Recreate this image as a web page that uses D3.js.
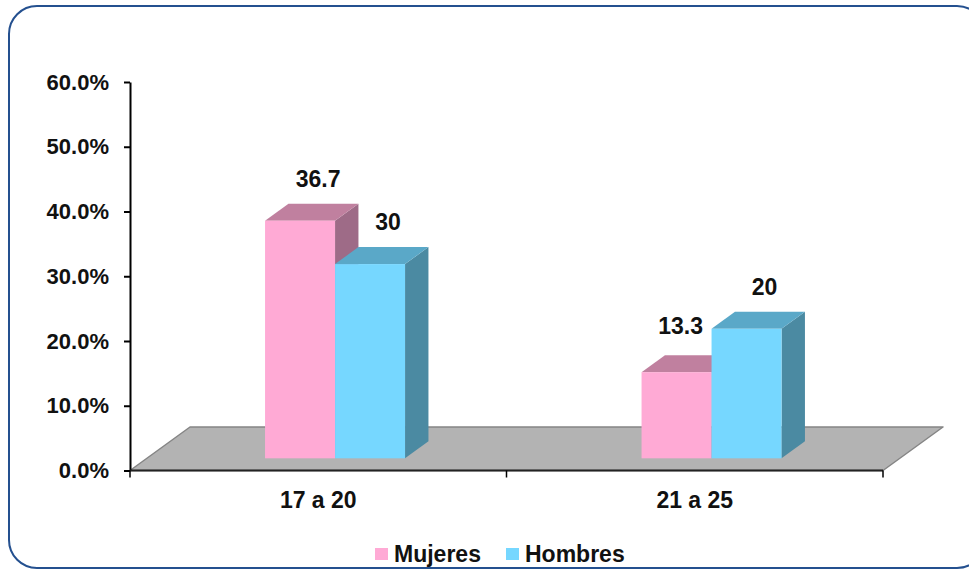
<!DOCTYPE html>
<html>
<head>
<meta charset="utf-8">
<script src="https://cdn.jsdelivr.net/npm/d3@7"></script>
<style>
  body { margin: 0; background: #fff; }
  text { font-family: "Liberation Sans", Arial, sans-serif; font-weight: bold; fill: #111; }
</style>
</head>
<body>
<div id="chart"></div>
<script>
// data
var categories = ["17 a 20", "21 a 25"];
var seriesNames = ["Mujeres", "Hombres"];
var mujeres = [36.7, 13.3];
var hombres = [30, 20];
var yTicks = [0, 0.1, 0.2, 0.3, 0.4, 0.5, 0.6];

var W = 969, H = 569;
var plotLeft = 130, plotRight = 883, plotTop = 82, plotBottom = 470.5;
var depthX = 60, depthY = -43.5;      // floor depth
var barFront = 0.28, barDepth = 0.39; // bar position in depth (fraction)

var faces = [
  {front: "#ffaad5", top: "#c0809f", side: "#9e6b87"},
  {front: "#76d7ff", top: "#5aa8c8", side: "#4b8aa2"}
];

var svg = d3.select("#chart").append("svg")
  .attr("width", W).attr("height", H);

// frame
svg.append("rect")
  .attr("x", 9).attr("y", 6)
  .attr("width", 976).attr("height", 562)
  .attr("rx", 28).attr("ry", 28)
  .attr("fill", "none")
  .attr("stroke", "#24508f")
  .attr("stroke-width", 2);

/* scales */
var y = d3.scaleLinear().domain([0, 0.6]).range([plotBottom, plotTop]);
var x0 = d3.scaleBand().domain(categories).range([plotLeft, plotRight]).paddingInner(0).paddingOuter(0);
var x1 = d3.scaleBand().domain(seriesNames).range([0, 140]);
var barW = x1.bandwidth();

/* floor */
var floor = [[plotLeft, plotBottom], [plotRight, plotBottom], [plotRight + depthX, plotBottom + depthY], [plotLeft + depthX, plotBottom + depthY]];
svg.append("path")
  .attr("d", "M" + floor.join("L") + "Z")
  .attr("fill", "#b3b3b3")
  .attr("stroke", "#858585")
  .attr("stroke-width", 1.5)
  .attr("stroke-linejoin", "round");

/* bars */
var rows = [];
categories.forEach(function(c, i) {
  rows.push({cat: c, s: 0, v: mujeres[i]});
  rows.push({cat: c, s: 1, v: hombres[i]});
});

var fdx = depthX * barFront, fdy = depthY * barFront;
var bdx = depthX * barDepth, bdy = depthY * barDepth;

function geom(d) {
  var xl = x0(d.cat) + (x0.bandwidth() - 140) / 2 + x1(seriesNames[d.s]) + fdx;
  var xr = xl + barW;
  var yb = y(0) + fdy;
  var yt = y(d.v / 100) + fdy;
  return {xl: xl, xr: xr, yb: yb, yt: yt};
}

var bars = svg.append("g").selectAll("g")
  .data(rows).enter().append("g");

bars.each(function(d) {
  var g = geom(d), sel = d3.select(this);
  sel.append("path")
    .attr("d", "M" + [[g.xr, g.yt], [g.xr + bdx, g.yt + bdy], [g.xr + bdx, g.yb + bdy], [g.xr, g.yb]].join("L") + "Z")
    .attr("fill", faces[d.s].side);
  sel.append("path")
    .attr("d", "M" + [[g.xl, g.yt], [g.xr, g.yt], [g.xr + bdx, g.yt + bdy], [g.xl + bdx, g.yt + bdy]].join("L") + "Z")
    .attr("fill", faces[d.s].top);
  sel.append("rect")
    .attr("x", g.xl).attr("y", g.yt)
    .attr("width", barW).attr("height", g.yb - g.yt)
    .attr("fill", faces[d.s].front);
});

/* value labels */
rows.forEach(function(d, i) {
  var g = geom(d);
  var lx = (g.xl + g.xr) / 2 + 18;
  var ly = g.yt + bdy - 17;
  // keep label clear of a taller neighbour on the right
  if (d.s === 0 && rows[i + 1] && rows[i + 1].v > d.v) {
    var n = geom(rows[i + 1]);
    lx = Math.min(lx, n.xl - 31);
    ly = Math.min(ly, g.yt + bdy - 21);
  }
  svg.append("text")
    .attr("x", lx).attr("y", ly)
    .attr("text-anchor", "middle")
    .style("font-size", "23px")
    .text(d.v);
});

/* y axis */
var yAxis = d3.axisLeft(y)
  .tickValues(yTicks)
  .tickFormat(d3.format(".1%"))
  .tickSize(6)
  .tickSizeOuter(0)
  .tickPadding(15);

var ya = svg.append("g")
  .attr("transform", "translate(" + plotLeft + ",0)")
  .call(yAxis);
ya.select(".domain").attr("stroke", "#000").attr("stroke-width", 2);
ya.selectAll(".tick line").attr("stroke", "#000").attr("stroke-width", 2);
ya.selectAll(".tick text")
  .style("font-size", "22px")
  .attr("fill", "#111");

/* x axis */
svg.append("line")
  .attr("x1", plotLeft).attr("x2", plotRight)
  .attr("y1", plotBottom).attr("y2", plotBottom)
  .attr("stroke", "#222").attr("stroke-width", 2);

var bounds = categories.map(function(c) { return x0(c); }).concat([plotRight]);
svg.append("g").selectAll("line")
  .data(bounds).enter().append("line")
  .attr("x1", d => d).attr("x2", d => d)
  .attr("y1", plotBottom).attr("y2", plotBottom + 7)
  .attr("stroke", "#000").attr("stroke-width", 1.5);

var xAxis = d3.axisBottom(x0).tickSize(0).tickPadding(21);
var xa = svg.append("g")
  .attr("transform", "translate(0," + plotBottom + ")")
  .call(xAxis);
xa.select(".domain").remove();
xa.selectAll(".tick text")
  .style("font-size", "23px")
  .attr("fill", "#111");

/* legend */
var legendX = [375, 506];
var legend = svg.append("g").selectAll("g")
  .data(seriesNames).enter().append("g")
  .attr("transform", (d, i) => "translate(" + legendX[i] + ",548)");
legend.append("rect")
  .attr("width", 13).attr("height", 12)
  .attr("fill", (d, i) => faces[i].front);
legend.append("text")
  .attr("x", 19).attr("y", 13.5)
  .style("font-size", "23px")
  .text(d => d);
</script>
</body>
</html>
